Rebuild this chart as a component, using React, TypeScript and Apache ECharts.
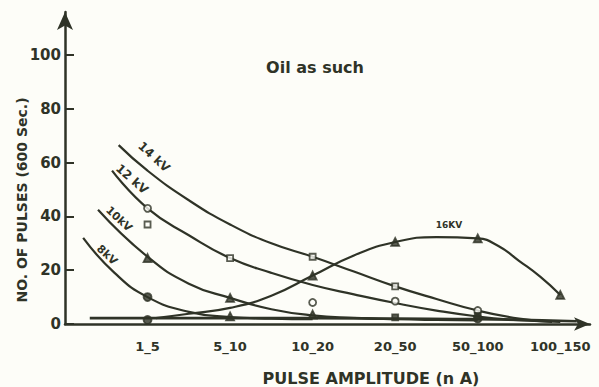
import React, { useEffect, useRef } from "react";
import * as echarts from "echarts";

// x positions: 1..6 correspond to the amplitude classes
const xCategories = ["1_5", "5_10", "10_20", "20_50", "50_100", "100_150"];
const xPositions = [1, 2, 3, 4, 5, 6];
const yTicks = [0, 20, 40, 60, 80, 100];

// fitted curves
const curve8kV = [[0.22, 32], [0.6, 19], [1, 10], [1.5, 4.5], [2, 2.6], [2.5, 2], [3, 1.8]];
const curve10kV = [[0.4, 42.5], [1, 25], [1.5, 15], [2, 9.7], [2.5, 5.5], [3, 3.2], [3.5, 2.3], [4, 1.8], [4.5, 1.5], [5, 1.3]];
const curve12kV = [[0.57, 57], [1, 43], [1.5, 33], [2, 24.5], [2.5, 19], [3, 14.5], [3.5, 11], [4, 7.8], [4.5, 5], [5, 2.8], [5.5, 1.4], [6, 0.8]];
const curve14kV = [[0.65, 66.5], [1, 57], [1.5, 46], [2, 37], [2.5, 30], [3, 25], [3.5, 19.5], [4, 14], [4.5, 9.3], [5, 5], [5.5, 2], [5.9, 0.8]];
const curve16kV = [[1.1, 2.2], [1.5, 3.8], [2, 6], [2.5, 10.5], [3, 18], [3.5, 25.5], [4, 30.5], [4.5, 32.3], [5, 31.8], [5.25, 29], [5.5, 23.5], [5.76, 17.5], [6, 10.8]];
const baseline = [[0.3, 2.2], [1, 2.2], [2, 2.2], [3, 2.2], [4, 2], [5, 1.8], [6.2, 1]];

// measured points
const filledCircles = [[1, 10], [1, 1.5], [5, 2]];
const filledTriangles = [[1, 24.5], [2, 9.7], [3, 18], [4, 30.5], [5, 31.8], [6, 10.8], [2, 2.8], [3, 3.5]];
const openCircles = [[1, 43], [3, 8], [4, 8.5], [5, 5]];
const openSquares = [[1, 37], [2, 24.5], [3, 25], [4, 14]];
const filledSquares = [[4, 2.5], [5, 3]];

const INK = "#2f3327";
const BG = "#fdfdf8";
const FONT = "'DejaVu Sans', 'Liberation Sans', sans-serif";

export default function App() {
  const ref = useRef<HTMLDivElement>(null);
  useEffect(() => {
    if (!ref.current) return;
    const chart = echarts.init(ref.current, undefined, { renderer: "svg" });
    const lineSeries = (data: number[][], width = 2.2) => ({
      type: "line",
      data,
      smooth: 0.5,
      showSymbol: false,
      lineStyle: { color: INK, width },
      z: 2,
    });
    const scatter = (data: number[][], symbol: string, size: number, fill: string) => ({
      type: "scatter",
      data,
      symbol,
      symbolSize: size,
      itemStyle: { color: fill, borderColor: INK, borderWidth: 1.8 },
      z: 3,
    });
    const label = (text: string, x: number, y: number, rotation: number, size: number) => ({
      type: "text",
      x,
      y,
      rotation,
      style: { text, font: `bold ${size}px ${FONT}`, fill: INK, align: "center", verticalAlign: "middle" },
    });
    chart.setOption({
      animation: false,
      backgroundColor: BG,
      grid: { left: 65, right: 9, top: 12, bottom: 63 },
      xAxis: {
        type: "value",
        min: 0,
        max: 6.36,
        interval: 1,
        axisLine: {
          lineStyle: { color: INK, width: 2.5 },
          symbol: ["none", "arrow"],
          symbolSize: [10, 16],
        },
        axisTick: { show: false },
        splitLine: { show: false },
        axisLabel: {
          customValues: xPositions,
          formatter: (v: number) => xCategories[Math.round(v) - 1] ?? "",
          color: INK,
          fontFamily: FONT,
          fontWeight: "bold",
          fontSize: 13,
          margin: 16,
        },
      },
      yAxis: {
        type: "value",
        min: 0,
        max: 116,
        interval: 20,
        axisLine: {
          show: true,
          lineStyle: { color: INK, width: 2.5 },
          symbol: ["none", "arrow"],
          symbolSize: [12, 18],
        },
        axisTick: {
          show: true,
          inside: true,
          length: 9,
          customValues: yTicks,
          lineStyle: { color: INK, width: 2 },
        },
        splitLine: { show: false },
        axisLabel: {
          customValues: yTicks,
          color: INK,
          fontFamily: FONT,
          fontWeight: "bold",
          fontSize: 15,
          margin: 4,
        },
      },
      graphic: [
        label("Oil as such", 315, 67, 0, 16),
        label("NO. OF PULSES (600 Sec.)", 22, 200, Math.PI / 2, 14),
        label("PULSE AMPLITUDE (n A)", 371, 378, 0, 16),
        label("14 kV", 154, 157, -0.74, 12),
        label("12 kV", 132, 179, -0.72, 12),
        label("10kV", 119, 219, -0.75, 11),
        label("8kV", 107, 255, -0.75, 11),
        label("16KV", 449, 225, 0, 9),
      ],
      series: [
        lineSeries(curve8kV),
        lineSeries(curve10kV),
        lineSeries(curve12kV),
        lineSeries(curve14kV),
        lineSeries(curve16kV),
        lineSeries(baseline, 2.6),
        scatter(filledCircles, "circle", 8, INK),
        scatter(filledTriangles, "triangle", 8, INK),
        scatter(openCircles, "circle", 7, BG),
        scatter(openSquares, "rect", 6, BG),
        scatter(filledSquares, "rect", 6, INK),
      ],
    });
    return () => chart.dispose();
  }, []);
  return (
    <div
      ref={ref}
      style={{ position: "absolute", left: 0, top: 0, width: 599, height: 387 }}
    />
  );
}
